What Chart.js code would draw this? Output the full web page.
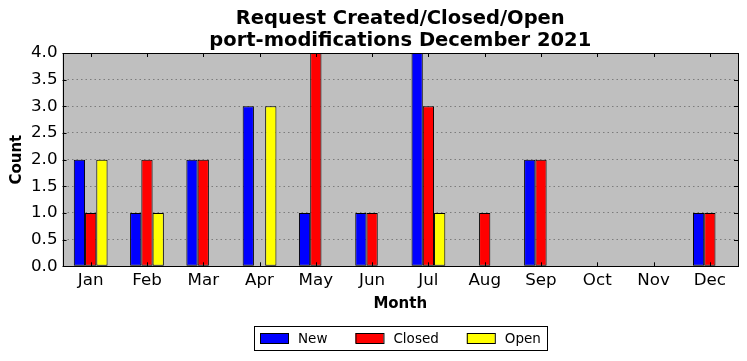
<!DOCTYPE html>
<html>
<head>
<meta charset="utf-8">
<script src="https://cdn.jsdelivr.net/npm/chart.js@4.4.0/dist/chart.umd.min.js"></script>
<style>
  html, body { margin: 0; padding: 0; background: #fff; }
</style>
</head>
<body>
<canvas id="reqChart" width="747" height="361"></canvas>
<script>
const months = ['Jan', 'Feb', 'Mar', 'Apr', 'May', 'Jun', 'Jul', 'Aug', 'Sep', 'Oct', 'Nov', 'Dec'];
const newReq    = [2, 1, 2, 3, 1, 1, 4, 0, 2, 0, 0, 1];
const closedReq = [1, 2, 2, 0, 4, 1, 3, 1, 2, 0, 0, 1];
const openReq   = [2, 1, 0, 3, 0, 0, 1, 0, 0, 0, 0, 0];
const yTicks = [0, 0.5, 1, 1.5, 2, 2.5, 3, 3.5, 4];
const titleLines = ['Request Created/Closed/Open', 'port-modifications December 2021'];

const FONT = "'DejaVu Sans', sans-serif";

// grey plot area, black frame, inward ticks, title + boxed legend centred on the plot (matplotlib classic look)
const classicLook = {
    id: 'classicLook',
    beforeDraw(chart) {
        const { ctx, chartArea: a } = chart;
        ctx.save();
        ctx.fillStyle = '#bfbfbf';
        ctx.fillRect(a.left, a.top, a.width, a.height);
        ctx.restore();
    },
    afterDatasetsDraw(chart) {
        const { ctx, chartArea: a } = chart;
        const x = chart.scales.x, y = chart.scales.y;
        ctx.save();
        ctx.strokeStyle = '#000';
        ctx.lineWidth = 1;
        ctx.beginPath();
        x.ticks.forEach((t, i) => {
            const px = Math.round(x.getPixelForTick(i)) + 0.5;
            ctx.moveTo(px, a.bottom); ctx.lineTo(px, a.bottom - 4);
            ctx.moveTo(px, a.top); ctx.lineTo(px, a.top + 4);
        });
        y.ticks.forEach((t, i) => {
            const py = Math.round(y.getPixelForTick(i)) + 0.5;
            ctx.moveTo(a.left, py); ctx.lineTo(a.left + 4, py);
            ctx.moveTo(a.right, py); ctx.lineTo(a.right - 4, py);
        });
        ctx.stroke();
        ctx.strokeRect(Math.round(a.left) + 0.5, Math.round(a.top) + 0.5,
                       Math.round(a.width), Math.round(a.height));
        ctx.restore();
    },
    afterDraw(chart) {
        const { ctx, chartArea: a } = chart;
        const cx = (a.left + a.right) / 2;
        ctx.save();
        // title
        ctx.fillStyle = '#000';
        ctx.textAlign = 'center';
        ctx.textBaseline = 'middle';
        ctx.font = 'bold 19.5px ' + FONT;
        titleLines.forEach((line, i) => ctx.fillText(line, cx, 19 + i * 22));

        // legend
        ctx.font = '13.5px ' + FONT;
        const items = chart.data.datasets.map(ds => ({
            text: ds.label, color: ds.backgroundColor, w: ctx.measureText(ds.label).width
        }));
        const patchW = 28, patchH = 10, gap = 10, between = 28, pad = 6;
        const total = pad * 2 + items.reduce((s, it) => s + patchW + gap + it.w, 0) + between * (items.length - 1);
        const left = Math.round(cx - total / 2);
        const top = 326, h = 24, cy = top + h / 2;
        ctx.strokeStyle = '#000';
        ctx.lineWidth = 1;
        ctx.strokeRect(left + 0.5, top + 0.5, Math.round(total), h);
        let xPos = left + pad;
        ctx.textAlign = 'left';
        items.forEach(it => {
            ctx.fillStyle = it.color;
            ctx.fillRect(xPos, cy - patchH / 2, patchW, patchH);
            ctx.strokeRect(xPos + 0.5, cy - patchH / 2 + 0.5, patchW, patchH);
            ctx.fillStyle = '#000';
            ctx.fillText(it.text, xPos + patchW + gap, cy + 1);
            xPos += patchW + gap + it.w + between;
        });
        ctx.restore();
    }
};

const ctx = document.getElementById('reqChart').getContext('2d');

new Chart(ctx, {
    type: 'bar',
    data: {
        labels: months,
        datasets: [
            { label: 'New', data: newReq, backgroundColor: '#0000ff' },
            { label: 'Closed', data: closedReq, backgroundColor: '#ff0000' },
            { label: 'Open', data: openReq, backgroundColor: '#ffff00' }
        ]
    },
    options: {
        responsive: false,
        animation: false,
        categoryPercentage: 0.6,
        barPercentage: 1.0,
        datasets: {
            bar: { borderColor: '#000', borderWidth: 1, borderSkipped: false }
        },
        layout: { padding: { left: 3, right: 9, top: 53, bottom: 48 } },
        scales: {
            x: {
                grid: { display: false, drawTicks: false },
                border: { display: false },
                ticks: { color: '#000', font: { family: FONT, size: 16.7, lineHeight: 1.0 }, padding: 6 },
                title: {
                    display: true, text: 'Month', color: '#000',
                    font: { family: FONT, size: 15, weight: 'bold' }, padding: { top: 0, bottom: 0 }
                }
            },
            y: {
                min: 0, max: 4,
                afterBuildTicks(scale) { scale.ticks = yTicks.map(v => ({ value: v })); },
                grid: { color: 'rgba(0,0,0,0.35)', drawTicks: false },
                border: { display: false, dash: [1.5, 3] },
                ticks: {
                    color: '#000', font: { family: FONT, size: 16.7 }, padding: 5,
                    callback: v => Number(v).toFixed(1)
                },
                title: {
                    display: true, text: 'Count', color: '#000',
                    font: { family: FONT, size: 15, weight: 'bold' }, padding: { top: 5, bottom: 0 }
                }
            }
        },
        plugins: {
            title: { display: false },
            legend: { display: false },
            tooltip: { enabled: false }
        }
    },
    plugins: [classicLook]
});
</script>
</body>
</html>
